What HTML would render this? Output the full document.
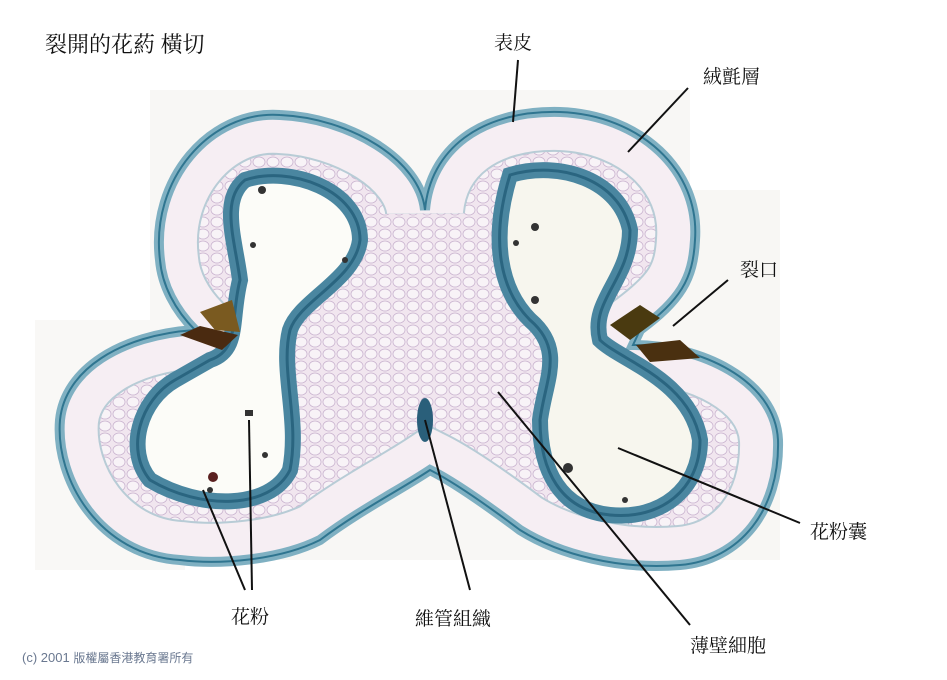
<!DOCTYPE html>
<html><head><meta charset="utf-8"><style>
html,body{margin:0;padding:0;background:#fff;width:947px;height:680px;overflow:hidden}
svg{display:block}
.l{font-family:"Liberation Serif","Noto Serif CJK SC","Noto Sans CJK TC",serif;font-size:19px;fill:#111}
</style></head><body>
<svg width="947" height="680" viewBox="0 0 947 680" xmlns="http://www.w3.org/2000/svg">
<defs>
<path id="o" d="M160,260 C150,180 210,110 280,115 C350,118 420,160 425,210 C430,150 480,110 560,112 C640,115 700,170 695,240 C693,280 680,300 640,330 L633,345 C700,345 775,380 778,440 C780,510 740,560 680,565 C620,570 560,555 520,530 C480,500 450,480 430,470 C400,490 360,510 320,540 C280,560 220,565 180,560 C100,555 55,480 60,420 C65,370 120,335 195,330 C175,310 162,285 160,260 Z"/>
<path id="a" d="M245,180 C290,165 360,190 360,240 C355,280 300,300 290,330 C280,370 300,420 290,470 C270,510 200,510 150,480 C125,450 140,400 175,380 L210,360 C240,350 230,320 240,280 C235,240 220,200 245,180 Z"/>
<path id="b" d="M510,175 C560,160 620,180 630,230 C630,280 590,300 600,340 C620,360 690,380 700,440 C700,490 660,520 610,515 C560,510 540,470 540,420 C545,380 565,350 530,320 C500,290 490,240 510,175 Z"/>
<clipPath id="c"><use href="#o"/></clipPath>
<pattern id="cells" width="14" height="12" patternUnits="userSpaceOnUse">
<rect width="14" height="12" fill="#f1e6ef"/>
<ellipse cx="7" cy="6" rx="6" ry="5" fill="#f8f3f7" stroke="#c9b3cf" stroke-width="0.8"/>
</pattern>
</defs>
<rect x="150" y="90" width="540" height="470" fill="#f8f7f5"/>
<rect x="35" y="320" width="150" height="250" fill="#f9f8f6"/>
<rect x="640" y="190" width="140" height="370" fill="#f8f7f4"/>
<use href="#o" fill="url(#cells)"/>
<g clip-path="url(#c)">
<use href="#o" fill="none" stroke="#b8ccd6" stroke-width="80"/>
<use href="#o" fill="none" stroke="#f6eef3" stroke-width="76"/>
</g>
<use href="#o" fill="none" stroke="#7fb0c2" stroke-width="10"/>
<use href="#o" fill="none" stroke="#2f7590" stroke-width="2"/>
<use href="#a" fill="#fcfcf8" stroke="#4a86a0" stroke-width="16"/>
<use href="#b" fill="#f7f6ee" stroke="#4a86a0" stroke-width="16"/>
<use href="#a" fill="none" stroke="#2a6580" stroke-width="3"/>
<use href="#b" fill="none" stroke="#2a6580" stroke-width="3"/>
<!-- stomium dark -->
<path d="M180,335 L200,326 L238,335 L222,350 Z" fill="#4a2a10"/>
<path d="M200,312 L232,300 L240,332 L215,330 Z" fill="#7a5a20"/>
<path d="M610,325 L640,305 L660,318 L630,340 Z" fill="#4a3a10"/>
<path d="M636,345 L680,340 L700,358 L650,362 Z" fill="#4a3010"/>
<ellipse cx="425" cy="420" rx="8" ry="22" fill="#2a5f7a"/>
<g fill="#333">
<circle cx="262" cy="190" r="4"/><circle cx="535" cy="227" r="4"/><circle cx="535" cy="300" r="4"/><circle cx="568" cy="468" r="5"/><circle cx="213" cy="477" r="5" fill="#5a2020"/><rect x="245" y="410" width="8" height="6"/><circle cx="253" cy="245" r="3"/><circle cx="345" cy="260" r="3"/><circle cx="210" cy="490" r="3"/><circle cx="265" cy="455" r="3"/><circle cx="516" cy="243" r="3"/><circle cx="625" cy="500" r="3"/>
</g>
<g stroke="#111" stroke-width="2" fill="none">
<line x1="518" y1="60" x2="513" y2="122"/>
<line x1="688" y1="88" x2="628" y2="152"/>
<line x1="728" y1="280" x2="673" y2="326"/>
<line x1="800" y1="523" x2="618" y2="448"/>
<line x1="245" y1="590" x2="203" y2="490"/>
<line x1="252" y1="590" x2="249" y2="420"/>
<line x1="470" y1="590" x2="425" y2="420"/>
<line x1="690" y1="625" x2="498" y2="392"/>
</g>
<text class="l" x="45" y="52" style="font-size:22px">裂開的花葯 橫切</text>
<text class="l" x="494" y="49">表皮</text>
<text class="l" x="703" y="83">絨氈層</text>
<text class="l" x="740" y="276">裂口</text>
<text class="l" x="810" y="538">花粉囊</text>
<text class="l" x="231" y="623">花粉</text>
<text class="l" x="415" y="625">維管組織</text>
<text class="l" x="690" y="652">薄壁細胞</text>
<text x="22" y="662" style="font-family:'Liberation Sans','Noto Sans CJK TC',sans-serif;font-size:13px" fill="#6a7890">(c) 2001 <tspan font-size="12">版權屬香港教育署所有</tspan></text>
</svg>
</body></html>
